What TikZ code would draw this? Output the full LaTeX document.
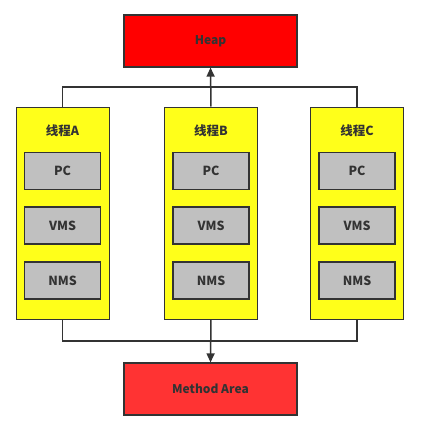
\documentclass[tikz,border=0pt]{standalone}
\usepackage{fontspec}
\setmainfont{Noto Sans CJK SC}
\usetikzlibrary{arrows.meta}
\definecolor{heapred}{HTML}{FF0000}
\definecolor{methred}{HTML}{FF3333}
\definecolor{thyellow}{HTML}{FFFF1A}
\definecolor{regray}{HTML}{C0C0C0}
\definecolor{ink}{HTML}{333333}
\tikzset{
  membox/.style={draw=ink, line width=1.2pt, inner sep=0pt, font=\bfseries\fontsize{12}{14}\selectfont, text=ink},
  thbox/.style={draw=ink, line width=1pt, fill=thyellow, inner sep=0pt},
  regbox/.style={draw=ink, line width=1.2pt, fill=regray, minimum width=76pt, minimum height=37pt, inner sep=0pt, font=\bfseries\fontsize{12.5}{14}\selectfont, text=ink},
  thlabel/.style={font=\bfseries\fontsize{12.5}{14}\selectfont, text=ink},
  conn/.style={draw=ink, line width=1.5pt},
  arr/.style={conn, -{Triangle[length=9pt,width=8pt]}}
}
\begin{document}
\begin{tikzpicture}[x=1pt,y=-1pt]
\useasboundingbox (0,0) rectangle (422,423);
\node[membox, fill=heapred, minimum width=173pt, minimum height=52pt] (heap) at (210.5,41) {Heap};
\node[membox, fill=methred, minimum width=173pt, minimum height=52pt] (meth) at (210.5,389) {Method Area};
\foreach \n/\cx/\l in {A/62.5/A, B/211/B, C/357/C}{
  \node[thbox, minimum width=93pt, minimum height=212pt] (t\n) at (\cx,213) {};
  \node[thlabel] (l\n) at (\cx,131) {线程\l};
  \node[regbox] (pc\n) at (\cx,171) {PC};
  \node[regbox] (vms\n) at (\cx,225.5) {VMS};
  \node[regbox] (nms\n) at (\cx,280.5) {NMS};
}
\coordinate (tl) at (tA.north |- 0,87);
\coordinate (tr) at (tC.north |- 0,87);
\coordinate (bl) at (tA.south |- 0,341);
\coordinate (br) at (tC.south |- 0,341);
\draw[conn] (tA.north) -- (tl) -- (tr) -- (tC.north);
\draw[arr] (tB.north) -- (heap.south);
\draw[conn] (tA.south) -- (bl) -- (br) -- (tC.south);
\draw[arr] (tB.south) -- (meth.north);
\end{tikzpicture}
\end{document}
